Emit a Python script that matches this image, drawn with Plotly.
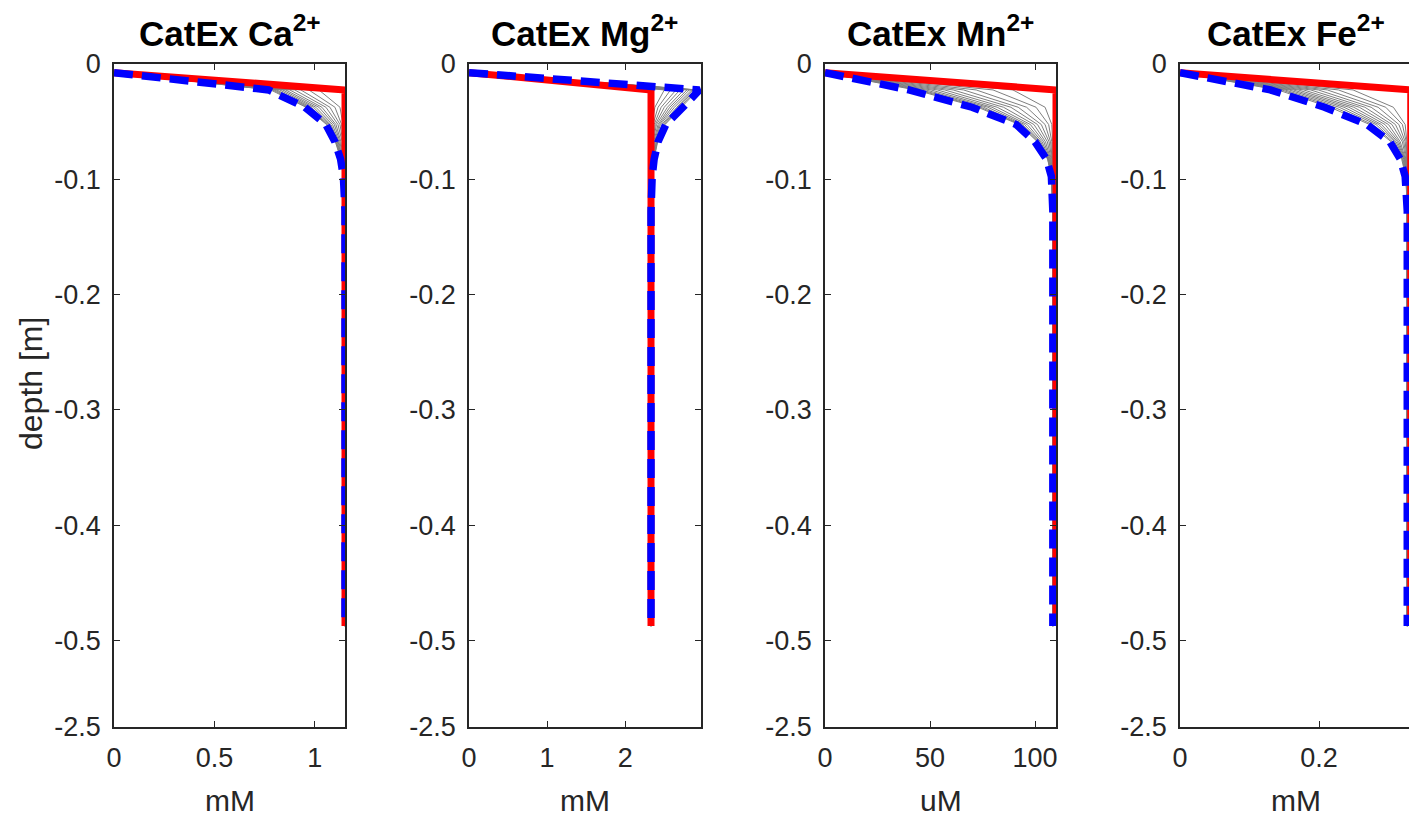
import plotly.graph_objects as go

# ---------------- data ----------------
DEPTH = [-0.0075, -0.0225, -0.0375, -0.0525, -0.0675, -0.0825, -0.0975, -0.1125, -0.1275, -0.4875]

Y_TICK_VALS = [0, -0.1, -0.2, -0.3, -0.4, -0.5, -0.575]
Y_TICK_TEXT = ["0", "-0.1", "-0.2", "-0.3", "-0.4", "-0.5", "-2.5"]

TITLES = ["CatEx Ca<sup>2+</sup>", "CatEx Mg<sup>2+</sup>", "CatEx Mn<sup>2+</sup>", "CatEx Fe<sup>2+</sup>"]
UNITS = ["mM", "mM", "uM", "mM"]
X_TICKS = [[0, 0.5, 1], [0, 1, 2], [0, 50, 100], [0, 0.2]]
X_TICK_TEXT = [["0", "0.5", "1"], ["0", "1", "2"], ["0", "50", "100"], ["0", "0.2"]]
X_MAX = [1.15, 2.97, 110, 0.3295]

# Ca
CA_RED = [0, 1.15, 1.15, 1.15, 1.15, 1.15, 1.15, 1.15, 1.15, 1.15]
CA_BLUE = [0, 0.77, 0.95, 1.055, 1.10, 1.128, 1.142, 1.148, 1.15, 1.15]
CA_GRAY = [
    [0, 1.02, 1.125, 1.140, 1.146, 1.149, 1.150, 1.150, 1.15, 1.15],
    [0, 0.97, 1.100, 1.133, 1.144, 1.148, 1.150, 1.150, 1.15, 1.15],
    [0, 0.93, 1.075, 1.125, 1.140, 1.146, 1.149, 1.150, 1.15, 1.15],
    [0, 0.90, 1.055, 1.115, 1.136, 1.144, 1.148, 1.150, 1.15, 1.15],
    [0, 0.875, 1.035, 1.105, 1.130, 1.141, 1.147, 1.150, 1.15, 1.15],
    [0, 0.855, 1.020, 1.097, 1.125, 1.139, 1.146, 1.149, 1.15, 1.15],
    [0, 0.84, 1.005, 1.088, 1.120, 1.136, 1.145, 1.149, 1.15, 1.15],
    [0, 0.825, 0.993, 1.080, 1.116, 1.134, 1.144, 1.149, 1.15, 1.15],
    [0, 0.81, 0.982, 1.073, 1.112, 1.132, 1.143, 1.148, 1.15, 1.15],
    [0, 0.80, 0.972, 1.067, 1.108, 1.131, 1.143, 1.148, 1.15, 1.15],
    [0, 0.79, 0.963, 1.062, 1.105, 1.130, 1.142, 1.148, 1.15, 1.15],
    [0, 0.78, 0.956, 1.058, 1.102, 1.129, 1.142, 1.148, 1.15, 1.15],
]

# Mg
MG_RED = [0, 2.33, 2.33, 2.33, 2.33, 2.33, 2.33, 2.33, 2.33, 2.33]
MG_BLUE = [0, 2.95, 2.74, 2.52, 2.42, 2.37, 2.345, 2.335, 2.33, 2.33]
MG_GRAY = [
    [0, 2.50, 2.38, 2.340, 2.332, 2.330, 2.330, 2.330, 2.33, 2.33],
    [0, 2.58, 2.42, 2.355, 2.337, 2.332, 2.330, 2.330, 2.33, 2.33],
    [0, 2.65, 2.46, 2.370, 2.343, 2.334, 2.331, 2.330, 2.33, 2.33],
    [0, 2.70, 2.50, 2.385, 2.350, 2.337, 2.332, 2.331, 2.33, 2.33],
    [0, 2.75, 2.54, 2.400, 2.357, 2.340, 2.333, 2.331, 2.33, 2.33],
    [0, 2.79, 2.57, 2.420, 2.365, 2.344, 2.335, 2.332, 2.33, 2.33],
    [0, 2.82, 2.60, 2.435, 2.375, 2.348, 2.336, 2.332, 2.33, 2.33],
    [0, 2.85, 2.63, 2.450, 2.385, 2.352, 2.338, 2.333, 2.33, 2.33],
    [0, 2.87, 2.66, 2.470, 2.395, 2.357, 2.340, 2.333, 2.33, 2.33],
    [0, 2.89, 2.68, 2.485, 2.403, 2.361, 2.341, 2.334, 2.33, 2.33],
    [0, 2.91, 2.70, 2.500, 2.410, 2.365, 2.343, 2.334, 2.33, 2.33],
    [0, 2.93, 2.72, 2.510, 2.415, 2.368, 2.344, 2.335, 2.33, 2.33],
]

# Mn
MN_RED = [0, 110, 110, 110, 110, 110, 110, 110, 110, 110]
MN_BLUE = [0, 40, 70, 91, 100, 105.5, 107.8, 108.3, 108.5, 108.5]
MN_GRAY = [
    [0, 89.5, 104.8, 108.0, 108.4, 108.5, 108.5, 108.5, 108.5, 108.5],
    [0, 80.0, 100.5, 106.5, 108.0, 108.4, 108.5, 108.5, 108.5, 108.5],
    [0, 72.0, 96.0, 104.8, 107.4, 108.2, 108.45, 108.5, 108.5, 108.5],
    [0, 66.0, 92.0, 103.0, 106.7, 108.0, 108.4, 108.5, 108.5, 108.5],
    [0, 61.0, 88.5, 101.2, 105.9, 107.7, 108.3, 108.45, 108.5, 108.5],
    [0, 57.0, 85.0, 99.5, 105.0, 107.4, 108.2, 108.45, 108.5, 108.5],
    [0, 53.5, 82.0, 97.8, 104.2, 107.1, 108.1, 108.4, 108.5, 108.5],
    [0, 50.5, 79.5, 96.3, 103.4, 106.8, 108.0, 108.4, 108.5, 108.5],
    [0, 48.0, 77.5, 95.0, 102.7, 106.5, 107.95, 108.35, 108.5, 108.5],
    [0, 46.0, 75.5, 94.0, 102.1, 106.3, 107.9, 108.35, 108.5, 108.5],
    [0, 44.5, 74.0, 93.2, 101.6, 106.1, 107.85, 108.3, 108.5, 108.5],
    [0, 43.0, 72.8, 92.5, 101.2, 106.0, 107.85, 108.3, 108.5, 108.5],
]

# Fe
FE_RED = [0, 0.332, 0.332, 0.332, 0.332, 0.332, 0.332, 0.332, 0.332, 0.332]
FE_BLUE = [0, 0.13, 0.208, 0.269, 0.302, 0.317, 0.324, 0.3265, 0.327, 0.327]
FE_GRAY = [
    [0, 0.249, 0.307, 0.324, 0.3265, 0.327, 0.327, 0.327, 0.327, 0.327],
    [0, 0.228, 0.296, 0.320, 0.3255, 0.3268, 0.327, 0.327, 0.327, 0.327],
    [0, 0.212, 0.285, 0.315, 0.3240, 0.3265, 0.327, 0.327, 0.327, 0.327],
    [0, 0.199, 0.275, 0.310, 0.3220, 0.3260, 0.3268, 0.327, 0.327, 0.327],
    [0, 0.188, 0.266, 0.305, 0.3200, 0.3250, 0.3266, 0.327, 0.327, 0.327],
    [0, 0.178, 0.258, 0.300, 0.3170, 0.3243, 0.3263, 0.327, 0.327, 0.327],
    [0, 0.170, 0.250, 0.295, 0.3150, 0.3235, 0.3260, 0.3268, 0.327, 0.327],
    [0, 0.163, 0.243, 0.290, 0.3130, 0.3228, 0.3258, 0.3267, 0.327, 0.327],
    [0, 0.157, 0.236, 0.286, 0.3110, 0.3220, 0.3255, 0.3266, 0.327, 0.327],
    [0, 0.151, 0.229, 0.282, 0.3090, 0.3210, 0.3252, 0.3266, 0.327, 0.327],
    [0, 0.146, 0.222, 0.277, 0.3060, 0.3200, 0.3250, 0.3265, 0.327, 0.327],
    [0, 0.141, 0.216, 0.273, 0.3040, 0.3190, 0.3248, 0.3265, 0.327, 0.327],
]

PANELS = [
    (CA_RED, CA_BLUE, CA_GRAY),
    (MG_RED, MG_BLUE, MG_GRAY),
    (MN_RED, MN_BLUE, MN_GRAY),
    (FE_RED, FE_BLUE, FE_GRAY),
]

# ---------------- layout geometry ----------------
W, H = 1409, 817
PANEL_LEFT_PX = [114, 469, 825, 1180]
PANEL_RIGHT_PX = [345, 701, 1056, 1409]
TOP_PX, BOTTOM_PX = 64, 727

FONT = "Liberation Sans, Arial, Helvetica, sans-serif"
AX_COLOR = "#262626"

fig = go.Figure()

for i, (red, blue, grays) in enumerate(PANELS):
    n = "" if i == 0 else str(i + 1)
    xa, ya = "x" + n, "y" + n
    for g in grays:
        fig.add_trace(go.Scatter(x=g, y=DEPTH, mode="lines", xaxis=xa, yaxis=ya,
                                 line=dict(color="#7f7f7f", width=1), showlegend=False,
                                 hoverinfo="skip"))
    fig.add_trace(go.Scatter(x=red, y=DEPTH, mode="lines", xaxis=xa, yaxis=ya,
                             line=dict(color="#ff0000", width=7), showlegend=False))
    fig.add_trace(go.Scatter(x=blue, y=DEPTH, mode="lines", xaxis=xa, yaxis=ya,
                             line=dict(color="#0000ff", width=7.5, dash="19px,9px"),
                             showlegend=False))

    last = i == 3
    fig.layout["xaxis" + n] = dict(
        domain=[PANEL_LEFT_PX[i] / W, PANEL_RIGHT_PX[i] / W],
        anchor=ya, range=[0, X_MAX[i]], automargin=False,
        tickmode="array", tickvals=X_TICKS[i], ticktext=X_TICK_TEXT[i],
        ticks="inside", ticklen=6, tickwidth=1.3, tickcolor=AX_COLOR,
        showline=True, linecolor=AX_COLOR, linewidth=1.5, mirror="ticks",
        showgrid=False, zeroline=False,
        tickfont=dict(family=FONT, size=27, color=AX_COLOR),
        ticklabelstandoff=6,
    )
    fig.layout["yaxis" + n] = dict(
        domain=[1 - BOTTOM_PX / H, 1 - TOP_PX / H],
        anchor=xa, range=[Y_TICK_VALS[-1], 0], automargin=False,
        tickmode="array", tickvals=Y_TICK_VALS, ticktext=Y_TICK_TEXT,
        ticks="inside", ticklen=6, tickwidth=1.3, tickcolor=AX_COLOR,
        showline=True, linecolor=AX_COLOR, linewidth=1.5,
        mirror=False if last else "ticks",
        showgrid=False, zeroline=False,
        tickfont=dict(family=FONT, size=27, color=AX_COLOR),
        ticklabelstandoff=6,
    )
    cx = (PANEL_LEFT_PX[i] + (PANEL_LEFT_PX[i] + 231)) / 2 / W
    fig.add_annotation(text="<b>" + TITLES[i] + "</b>", xref="paper", yref="paper",
                       x=cx, y=1 - 55 / H, xanchor="center", yanchor="bottom",
                       showarrow=False, font=dict(family=FONT, size=35, color="#000000"))
    fig.add_annotation(text=UNITS[i], xref="paper", yref="paper",
                       x=cx, y=1 - 800 / H, xanchor="center", yanchor="middle",
                       showarrow=False, font=dict(family=FONT, size=30, color=AX_COLOR))

fig.add_annotation(text="depth [m]", xref="paper", yref="paper", textangle=-90,
                   x=31 / W, y=1 - 384 / H, xanchor="center", yanchor="middle",
                   showarrow=False, font=dict(family=FONT, size=32, color=AX_COLOR))

fig.update_layout(width=W, height=H, margin=dict(l=0, r=0, t=0, b=0, autoexpand=False),
                  paper_bgcolor="white", plot_bgcolor="white", showlegend=False)

fig.write_html("out.html")
